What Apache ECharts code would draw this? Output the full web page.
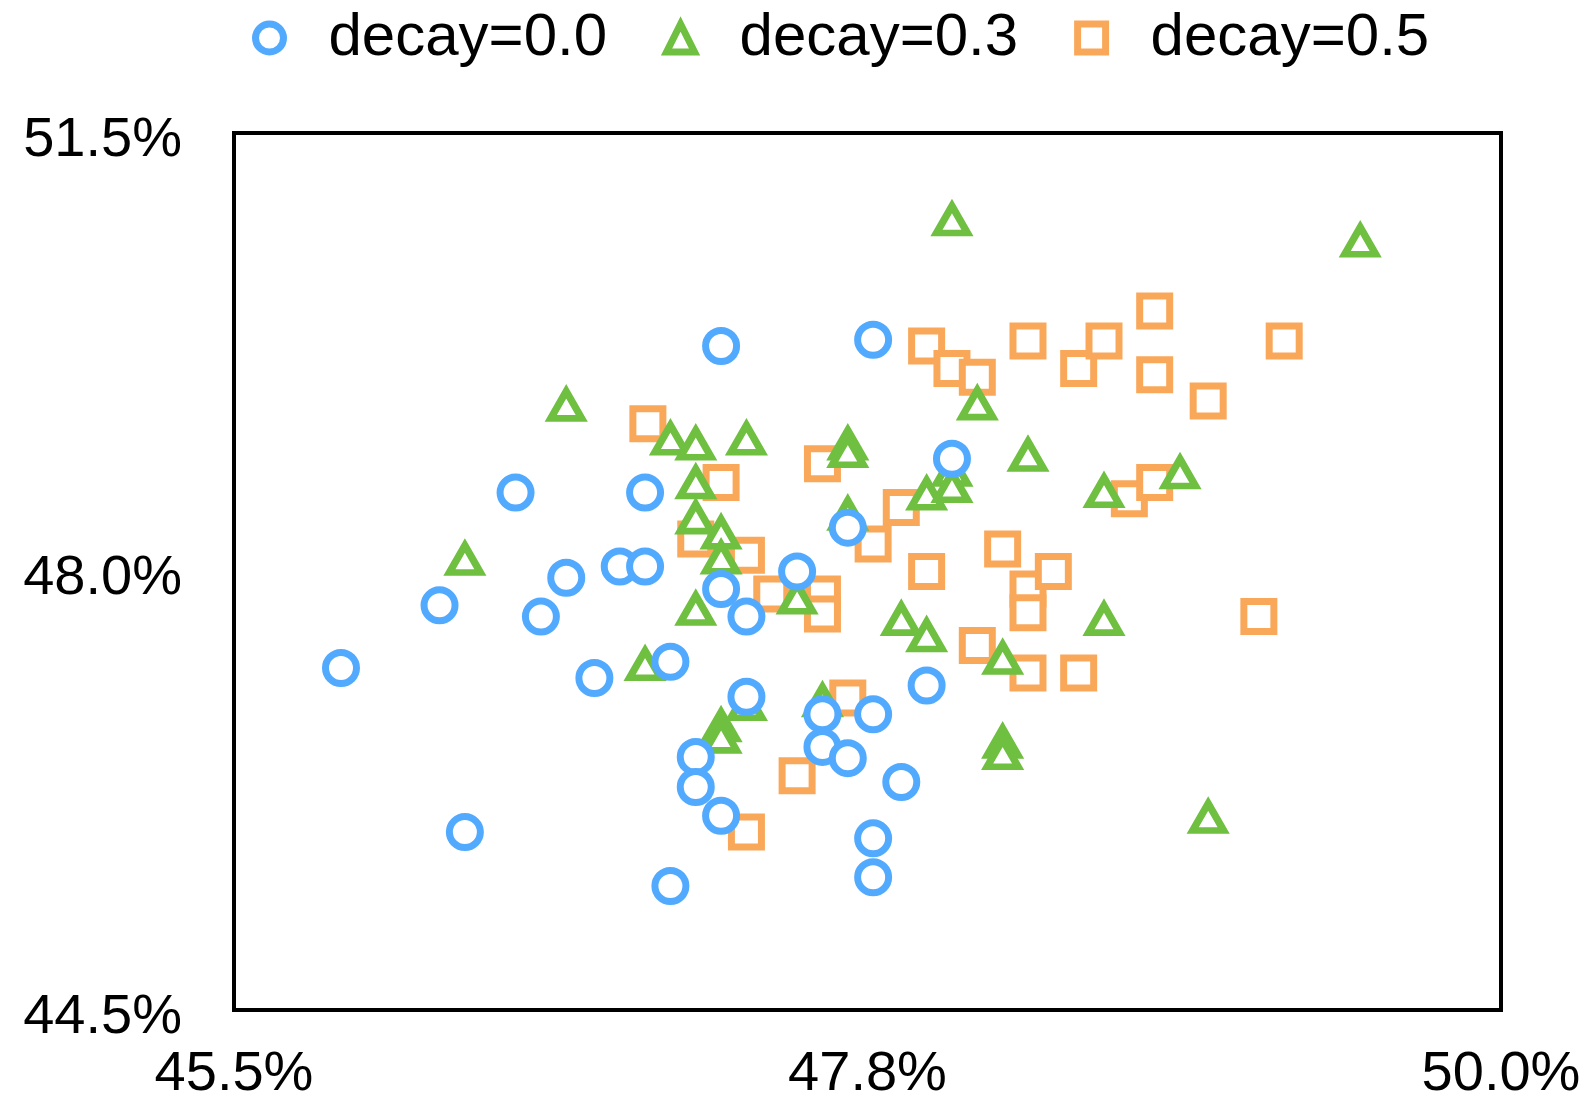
<!DOCTYPE html>
<html>
<head>
<meta charset="utf-8">
<script src="https://cdn.jsdelivr.net/npm/echarts@6/dist/echarts.min.js"></script>
<style>
html,body{margin:0;padding:0;background:#fff;}
#chart{width:1591px;height:1094px;}
</style>
</head>
<body>
<div id="chart"></div>
<script>
// ---- data ----
const seriesNames = ['decay=0.0', 'decay=0.3', 'decay=0.5'];

const decay00X = [45.88, 46.23, 46.32, 46.50, 46.59, 46.68, 46.78, 46.87, 46.96, 46.96, 47.05, 47.05, 47.14, 47.14, 47.23, 47.23, 47.23, 47.32, 47.32, 47.50, 47.59, 47.59, 47.68, 47.68, 47.77, 47.77, 47.77, 47.77, 47.87, 47.96, 48.05];
const decay00Y = [47.23, 47.73, 45.92, 48.63, 47.64, 47.95, 47.15, 48.04, 48.04, 48.63, 47.28, 45.49, 46.52, 46.28, 49.80, 47.86, 46.05, 47.64, 47.00, 48.00, 46.86, 46.60, 48.35, 46.51, 49.85, 46.86, 45.87, 45.56, 46.32, 47.09, 48.90];

const decay03X = [46.32, 46.68, 46.96, 47.05, 47.14, 47.14, 47.14, 47.14, 47.23, 47.23, 47.23, 47.23, 47.32, 47.32, 47.50, 47.59, 47.68, 47.68, 47.68, 47.87, 47.96, 47.96, 48.05, 48.05, 48.05, 48.14, 48.23, 48.23, 48.23, 48.32, 48.59, 48.59, 48.86, 48.96, 49.50];
const decay03Y = [48.10, 49.33, 47.26, 49.06, 49.02, 48.71, 48.43, 47.70, 48.31, 48.11, 46.77, 46.68, 49.06, 46.94, 47.79, 46.97, 49.02, 48.96, 48.46, 47.62, 48.62, 47.49, 50.81, 48.81, 48.68, 49.34, 47.31, 46.64, 46.55, 48.93, 48.64, 47.62, 48.79, 46.04, 50.64];

const decay05X = [46.97, 47.14, 47.23, 47.32, 47.32, 47.41, 47.50, 47.59, 47.59, 47.59, 47.68, 47.77, 47.87, 47.96, 47.96, 48.05, 48.14, 48.14, 48.23, 48.32, 48.32, 48.32, 48.32, 48.41, 48.50, 48.50, 48.59, 48.68, 48.77, 48.77, 48.77, 48.96, 49.14, 49.23];
const decay05Y = [49.18, 48.26, 48.71, 48.13, 45.92, 47.82, 46.37, 48.86, 47.82, 47.66, 46.99, 48.22, 48.51, 49.80, 48.00, 49.62, 49.55, 47.41, 48.18, 49.84, 47.86, 47.67, 47.19, 48.00, 49.62, 47.19, 49.84, 48.58, 50.08, 49.57, 48.71, 49.36, 47.64, 49.84];

const xTicks = [45.5, 47.75, 50.0];
const yTicks = [44.5, 48.0, 51.5];

const colors = ['#52aaff', '#6fbf40', '#f9a85a'];
const symbols = ['circle', 'triangle', 'rect'];

function zip(xs, ys) { return xs.map((x, i) => [x, ys[i]]); }

const chart = echarts.init(document.getElementById('chart'), null, {renderer: 'canvas'});
const FONT = 'Liberation Sans';

const option = {
  animation: false,
  backgroundColor: '#fff',
  textStyle: {fontFamily: FONT},
  legend: {
    left: 247,
    top: -1,
    orient: 'horizontal',
    itemWidth: 28,
    itemHeight: 28,
    itemGap: 56,
    selectedMode: false,
    textStyle: {fontSize: 60, color: '#000', fontFamily: FONT, lineHeight: 60, padding: [8, 0, 0, 40]},
    itemStyle: {borderWidth: 7},
    data: seriesNames
  },
  grid: {
    left: 234, right: 90, top: 133, bottom: 84,
    outerBoundsMode: 'none',
    containLabel: false,
    show: true, borderColor: '#000', borderWidth: 4, backgroundColor: 'transparent'
  },
  xAxis: {
    type: 'value', min: 45.5, max: 50.0,
    axisLine: {show: false}, axisTick: {show: false}, splitLine: {show: false},
    axisLabel: {
      customValues: xTicks, fontSize: 56, color: '#000', fontFamily: FONT, margin: 37,
      lineHeight: 56,
      formatter: v => v.toFixed(1) + '%'
    }
  },
  yAxis: {
    type: 'value', min: 44.5, max: 51.5,
    axisLine: {show: false}, axisTick: {show: false}, splitLine: {show: false},
    axisLabel: {
      customValues: yTicks, fontSize: 56, color: '#000', fontFamily: FONT, margin: 52,
      verticalAlign: 'top', lineHeight: 15,
      formatter: v => v.toFixed(1) + '%'
    }
  },
  series: [
    {
      name: seriesNames[0], type: 'scatter', z: 4, symbol: symbols[0], symbolSize: 31,
      itemStyle: {color: '#fff', borderColor: colors[0], borderWidth: 7, opacity: 1},
      data: zip(decay00X, decay00Y)
    },
    {
      name: seriesNames[1], type: 'scatter', z: 3, symbol: symbols[1], symbolSize: [31, 27],
      itemStyle: {color: '#fff', borderColor: colors[1], borderWidth: 7, opacity: 1},
      data: zip(decay03X, decay03Y)
    },
    {
      name: seriesNames[2], type: 'scatter', z: 2, symbol: symbols[2], symbolSize: 30,
      itemStyle: {color: '#fff', borderColor: colors[2], borderWidth: 7, opacity: 1},
      data: zip(decay05X, decay05Y)
    }
  ]
};
chart.setOption(option);
</script>
</body>
</html>
